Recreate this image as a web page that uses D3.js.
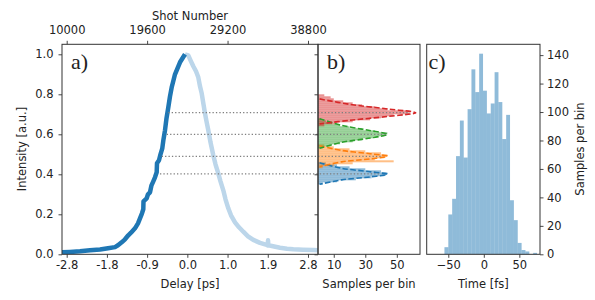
<!DOCTYPE html>
<html>
<head>
<meta charset="utf-8">
<script src="https://cdn.jsdelivr.net/npm/d3@7"></script>
<style>
  body { margin: 0; background: #fff; }
  svg text { font-family: "DejaVu Sans", sans-serif; font-size: 11.5px; fill: #222; }
  .axis line { stroke: #333; stroke-width: 0.9; }
  .axis path { display: none; }
  .frame { fill: none; stroke: #333; stroke-width: 1; }
  .tag { font-family: "Liberation Serif", serif; font-size: 22px; }
</style>
</head>
<body>
<div id="chart"></div>
<script>

// panel a: intensity vs shot number (dark = rising edge, light = falling edge)
var shotDark = [9440, 10394, 11588, 12781, 13975, 14930, 15765, 16123, 16565, 16959, 17353, 17675,
  18152, 18510, 18749, 18988, 19143, 19167, 19549, 19704, 19943, 20122, 20337, 20540, 20742, 20778,
  21017, 21196, 21411, 21554, 21733, 21912, 22127, 22330, 22533, 22688, 22927, 23225, 23523, 23822, 24120];
var intDark = [0.010, 0.012, 0.015, 0.020, 0.024, 0.030, 0.036, 0.045, 0.060, 0.075, 0.095, 0.108,
  0.130, 0.155, 0.180, 0.205, 0.225, 0.265, 0.280, 0.300, 0.310, 0.345, 0.365, 0.385, 0.410, 0.455,
  0.470, 0.500, 0.530, 0.575, 0.620, 0.680, 0.735, 0.790, 0.835, 0.860, 0.900, 0.930, 0.960, 0.980, 1.000];

var shotLight = [24120, 24514, 24836, 25111, 25433, 25708, 25911, 26114, 26329, 26508, 26687, 26902,
  27164, 27498, 27761, 28095, 28358, 28692, 28955, 29289, 29612, 30088, 30566, 31079, 31640, 32273,
  33073, 33872, 33990, 34030, 34070, 34624, 35459, 36295, 37047, 38205, 39434, 39995];
var intLight = [1.000, 0.995, 0.965, 0.940, 0.915, 0.885, 0.840, 0.805, 0.750, 0.705, 0.665, 0.620,
  0.560, 0.495, 0.450, 0.405, 0.365, 0.320, 0.275, 0.230, 0.195, 0.160, 0.135, 0.113, 0.090, 0.072,
  0.057, 0.047, 0.045, 0.070, 0.045, 0.040, 0.033, 0.028, 0.025, 0.023, 0.021, 0.020];

var shotTicks = [10000, 19600, 29200, 38800];
var delayTickShots = [10000, 14800, 19600, 24400, 29200, 34000, 38800];
var delayTickLabels = ["-2.8", "-1.8", "-0.9", "0.0", "1.0", "1.9", "2.8"];

// dotted guide levels
var levelValues = [0.708, 0.600, 0.490, 0.402];
var levelStartShot = [22127, 21936, 21340, 21136];
var levelEndCount = [58.4, 43.7, 40.5, 39.5];

// panel b: histograms of intensity (bin start, counts)
var binWidthB = 0.01;
var redStart = 0.64;
var redCounts = [4, 12, 22, 33, 40, 48, 58, 56, 44, 36, 28, 22, 16, 10, 8, 4];
var greenStart = 0.53;
var greenCounts = [3, 8, 14, 22, 28, 35, 42, 44, 36, 28, 20, 14, 9, 5, 2];
var orangeStart = 0.43;
var orangeCounts = [3, 10, 22, 48, 36, 42, 44, 40, 30, 20, 10, 4];
var blueStart = 0.35;
var blueCounts = [3, 12, 24, 34, 42, 44, 40, 30, 20, 12, 5];

// panel b: gaussian fits, read as (count, intensity) points
var redFitCount = [1, 20, 45, 62, 45, 20, 1];
var redFitInt = [0.777, 0.750, 0.726, 0.708, 0.690, 0.670, 0.652];
var greenFitCount = [1, 15, 32, 44, 32, 15, 1];
var greenFitInt = [0.678, 0.645, 0.620, 0.600, 0.580, 0.560, 0.530];
var orangeFitCount = [1, 15, 33, 44, 33, 15, 1];
var orangeFitInt = [0.543, 0.519, 0.503, 0.490, 0.477, 0.462, 0.438];
var blueFitCount = [1, 15, 33, 44, 33, 15, 1];
var blueFitInt = [0.458, 0.430, 0.413, 0.400, 0.387, 0.372, 0.350];

// panel c: time histogram
var timeBinStart = -55.4;
var timeBinWidth = 5.43;
var timeCounts = [5, 28, 39, 69, 94, 68, 102, 130, 114, 141, 115, 99, 106, 128, 107, 81, 98, 38, 24, 8, 3, 2, 0, 1];

var svg = d3.select("#chart").append("svg")
    .attr("width", 595)
    .attr("height", 300);

var plotTop = 44.3, plotBottom = 254.3;

// scales
var yInt = d3.scaleLinear().domain([0, 1.05]).range([plotBottom, plotTop]);
var xShot = d3.scaleLinear().domain([9440, 39995]).range([62, 318]);
var xCount = d3.scaleLinear().domain([0, 64.7]).range([318, 420]);
var xTime = d3.scaleLinear().domain([-80.4, 79.1]).range([426.7, 540]);
var yCount = d3.scaleLinear().domain([0, 147.6]).range([plotBottom, plotTop]);

svg.append("clipPath").attr("id", "clipA")
  .append("rect").attr("x", 62).attr("y", plotTop).attr("width", 256).attr("height", plotBottom - plotTop);

// ---- panel a ----
var gA = svg.append("g").attr("clip-path", "url(#clipA)");
var line = d3.line().x(d => xShot(d[0])).y(d => yInt(d[1]));

gA.append("path")
  .datum(d3.zip(shotLight, intLight))
  .attr("d", line)
  .attr("fill", "none")
  .attr("stroke", "#bcd6ea")
  .attr("stroke-width", 4.5)
  .attr("stroke-linejoin", "round");

gA.append("path")
  .datum(d3.zip(shotDark, intDark))
  .attr("d", line)
  .attr("fill", "none")
  .attr("stroke", "#1f77b4")
  .attr("stroke-width", 4.5)
  .attr("stroke-linejoin", "round");

// ---- panel b ----
var hists = [
  [blueStart, blueCounts, "#1f77b4"],
  [orangeStart, orangeCounts, "#ff7f0e"],
  [greenStart, greenCounts, "#2ca02c"],
  [redStart, redCounts, "#d62728"]
];
hists.forEach(function(h) {
  svg.append("g").selectAll("rect")
    .data(h[1])
    .enter().append("rect")
    .attr("x", xCount(0))
    .attr("y", (d, i) => yInt(h[0] + (i + 1) * binWidthB))
    .attr("width", d => xCount(d) - xCount(0))
    .attr("height", (d, i) => yInt(h[0] + i * binWidthB) - yInt(h[0] + (i + 1) * binWidthB))
    .attr("fill", h[2])
    .attr("fill-opacity", 0.5);
});

var fits = [
  [blueFitCount, blueFitInt, "#1f77b4"],
  [orangeFitCount, orangeFitInt, "#ff7f0e"],
  [greenFitCount, greenFitInt, "#2ca02c"],
  [redFitCount, redFitInt, "#d62728"]
];
var fitLine = d3.line()
  .x(d => xCount(d[0]))
  .y(d => yInt(d[1]))
  .curve(d3.curveCatmullRom);
fits.forEach(function(f) {
  svg.append("path")
    .datum(d3.zip(f[0], f[1]))
    .attr("d", fitLine)
    .attr("fill", "none")
    .attr("stroke", f[2])
    .attr("stroke-width", 1.6)
    .attr("stroke-dasharray", "5.5,2.4");
});

// dotted guides across a and b
levelValues.forEach(function(v, i) {
  svg.append("line")
    .attr("x1", xShot(levelStartShot[i]))
    .attr("x2", xCount(levelEndCount[i]))
    .attr("y1", yInt(v))
    .attr("y2", yInt(v))
    .attr("stroke", "#7f7f7f")
    .attr("stroke-width", 1.3)
    .attr("stroke-dasharray", "1.3,2.1");
});

// ---- panel c ----
svg.append("g").selectAll("rect")
  .data(timeCounts)
  .enter().append("rect")
  .attr("x", (d, i) => xTime(timeBinStart + i * timeBinWidth))
  .attr("y", d => yCount(d))
  .attr("width", (d, i) => xTime(timeBinStart + (i + 1) * timeBinWidth) - xTime(timeBinStart + i * timeBinWidth))
  .attr("height", d => plotBottom - yCount(d))
  .attr("fill", "#1f77b4")
  .attr("fill-opacity", 0.5);

// ---- axes ----
svg.append("g").attr("class", "axis")
  .attr("transform", `translate(62,0)`)
  .call(d3.axisLeft(yInt).tickValues([0, 0.2, 0.4, 0.6, 0.8, 1.0]).tickFormat(d3.format(".1f")).tickSize(3.5).tickPadding(5));

svg.append("g").attr("class", "axis")
  .attr("transform", `translate(0,${plotBottom})`)
  .call(d3.axisBottom(xShot).tickValues(delayTickShots).tickFormat((d, i) => delayTickLabels[i]).tickSize(3.5).tickPadding(3.5));

svg.append("g").attr("class", "axis")
  .attr("transform", `translate(0,${plotTop})`)
  .call(d3.axisTop(xShot).tickValues(shotTicks).tickFormat(d3.format("d")).tickSize(3.5).tickPadding(6.5));

// panel b ticks (no labels on y)
svg.append("g").attr("class", "axis")
  .attr("transform", `translate(318,0)`)
  .call(d3.axisLeft(yInt).tickValues([0, 0.2, 0.4, 0.6, 0.8, 1.0]).tickFormat("").tickSize(3.5));

svg.append("g").attr("class", "axis")
  .attr("transform", `translate(0,${plotBottom})`)
  .call(d3.axisBottom(xCount).tickValues([10, 30, 50]).tickSize(3.5).tickPadding(3.5));

// panel c axes
svg.append("g").attr("class", "axis")
  .attr("transform", `translate(0,${plotBottom})`)
  .call(d3.axisBottom(xTime).tickValues([-50, 0, 50]).tickFormat(d => d < 0 ? "\u2212" + Math.abs(d) : d).tickSize(3.5).tickPadding(3.5));

svg.append("g").attr("class", "axis")
  .attr("transform", `translate(540,0)`)
  .call(d3.axisRight(yCount).tickValues(d3.range(0, 141, 20)).tickSize(3.5).tickPadding(3.5));

// frames
svg.append("rect").attr("class", "frame").attr("x", 62).attr("y", plotTop).attr("width", 256).attr("height", plotBottom - plotTop);
svg.append("rect").attr("class", "frame").attr("x", 318).attr("y", plotTop).attr("width", 102).attr("height", plotBottom - plotTop);
svg.append("rect").attr("class", "frame").attr("x", 426.7).attr("y", plotTop).attr("width", 113.3).attr("height", plotBottom - plotTop);

// axis titles
svg.append("text").attr("x", 190).attr("y", 19.5).attr("text-anchor", "middle").text("Shot Number");
svg.append("text").attr("x", 190).attr("y", 288).attr("text-anchor", "middle").text("Delay [ps]");
svg.append("text").attr("x", 369).attr("y", 288).attr("text-anchor", "middle").text("Samples per bin");
svg.append("text").attr("x", 483.3).attr("y", 288).attr("text-anchor", "middle").text("Time [fs]");
svg.append("text")
  .attr("transform", "translate(25.5,149) rotate(-90)")
  .attr("text-anchor", "middle")
  .text("Intensity [a.u.]");
svg.append("text")
  .attr("transform", "translate(584,149) rotate(-90)")
  .attr("text-anchor", "middle")
  .text("Samples per bin");

// panel tags
svg.append("text").attr("class", "tag").attr("x", 71).attr("y", 68.5).text("a)");
svg.append("text").attr("class", "tag").attr("x", 327).attr("y", 68.5).text("b)");
svg.append("text").attr("class", "tag").attr("x", 428.5).attr("y", 68.5).text("c)");

</script>
</body>
</html>
